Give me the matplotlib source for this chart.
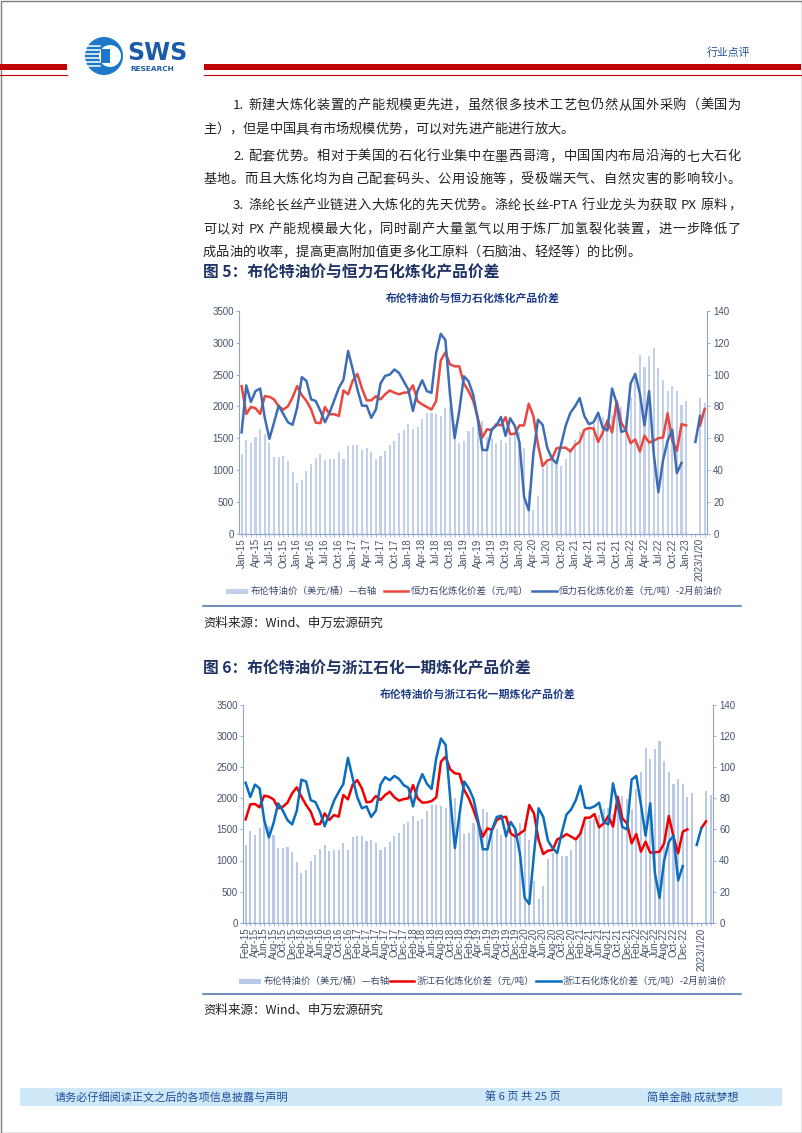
import re
import numpy as np
import pandas as pd
import matplotlib
matplotlib.use('Agg')
import matplotlib.pyplot as plt
from matplotlib.patches import Rectangle, Circle
from matplotlib.font_manager import FontProperties

FAM = ['Noto Sans CJK SC', 'DejaVu Sans']
plt.rcParams['font.family'] = FAM

nan = np.nan

# ---- data ----
# 布伦特油价 (美元/桶), Jan-15 .. Jan-23, then two daily points
brent = [50, 58.7, 56.7, 61, 65.6, 62.5, 56.7, 48, 48, 49, 45.6, 39,
         32, 33.7, 39.6, 43.5, 47.7, 49.8, 46, 47, 47, 51.5, 47, 55,
         55.6, 55.8, 52.5, 53.5, 51.5, 47, 49, 52, 56, 58, 63.3, 65,
         68.8, 65.6, 67, 72, 75.8, 75.8, 75, 74, 79, 80, 68.8, 57,
         58, 64.4, 67, 73, 71, 61, 60, 56.7, 59, 56.7, 61, 64,
         64, 53.5, 26.5, 15, 23.3, 41, 45, 45.8, 43, 42.7, 46.7, 53.5,
         58.7, 64, 66, 67, 69, 73, 73.5, 70, 74.4, 81.6, 79.6, 73.3,
         86, 97, 112.4, 105, 111.4, 116.6, 104, 96.8, 89.5, 92.7, 89.5, 80.8,
         83.3, nan, nan, 85, 82]

# 恒力石化炼化价差 (元/吨)
hl_spread = [2318, 1880, 1990, 1970, 1880, 2160, 2150, 2110, 2000, 1950, 2000, 2140,
             2320, 2175, 2085, 1955, 1745, 1735, 1990, 1876, 1876, 1850, 2250, 2190,
             2405, 2510, 2280, 2094, 2094, 2160, 2110, 2190, 2250, 2214, 2190, 2215,
             2220, 2330, 2083, 2030, 1990, 1950, 2083, 2720, 2850, 2660, 2630, 2630,
             2360, 2240, 2090, 1820, 1510, 1640, 1625, 1720, 1700, 1830, 1560, 1570,
             1700, 1700, 2040, 1850, 1400, 1060, 1150, 1170, 1340, 1350, 1350, 1290,
             1390, 1440, 1630, 1660, 1650, 1440, 1590, 1780, 1590, 2080, 1740, 1620,
             1420, 1480, 1290, 1540, 1430, 1460, 1500, 1510, 1890, 1460, 1300, 1720,
             1700, nan, nan, 1700, 1960]

# 恒力石化炼化价差 (元/吨) -2月前油价
hl_spread_lag = [1590, 2330, 2070, 2240, 2280, 1820, 1490, 1745, 2010, 1880, 1750, 1710,
                 1980, 2460, 2400, 2110, 2085, 1930, 1750, 1900, 2095, 2290, 2420, 2870,
                 2580, 2270, 2010, 2010, 1820, 1950, 2360, 2480, 2500, 2580, 2525, 2395,
                 2265, 1927, 2250, 2410, 2240, 2213, 2837, 3140, 3044, 2187, 1500, 1927,
                 2473, 2395, 2187, 1797, 1313, 1313, 1640, 1693, 1833, 1536, 1812, 1693,
                 1432, 575, 367, 1250, 1790, 1710, 1350, 1180, 1100, 1400, 1700, 1900,
                 2000, 2130, 1850, 1720, 1750, 1900, 1660, 1620, 2280, 2050, 1600, 1620,
                 2360, 2510, 2200, 1700, 2240, 1250, 650, 1150, 1460, 1630, 950, 1110,
                 nan, nan, 1440, 1850, nan]

# 浙江石化炼化价差 (元/吨)
zj_spread = [1662, 1903, 1908, 1855, 2042, 2026, 1983, 1838, 1865, 1930,
             2080, 2176, 2026, 1892, 1785, 1581, 1587, 1758, 1651, 1731,
             1704, 2053, 1983, 2214, 2294, 2160, 1935, 1946, 2037, 1972,
             2053, 2106, 2015, 1962, 1988, 1999, 2214, 1999, 1930, 1935,
             1956, 2015, 2589, 2669, 2466, 2401, 2391, 2133, 1999, 1812,
             1597, 1383, 1517, 1490, 1651, 1688, 1704, 1436, 1383, 1436,
             1490, 1892, 1758, 1329, 1104, 1158, 1168, 1340, 1372, 1426,
             1383, 1340, 1436, 1688, 1688, 1747, 1533, 1597, 1715, 1544,
             2026, 1678, 1597, 1276, 1426, 1142, 1302, 1126, 1131, 1142,
             1276, 1715, 1383, 1115, 1463, 1501,
             nan, nan, 1520, 1630, nan]

# 浙江石化炼化价差 (元/吨) -2月前油价
zj_spread_lag = [2250, 2020, 2220, 2160, 1650, 1370, 1600, 1920, 1800, 1650,
                 1580, 1800, 2300, 2270, 1970, 1940, 1780, 1550, 1750, 1960,
                 2100, 2230, 2650, 2330, 2020, 1840, 1870, 1700, 1800, 2220,
                 2340, 2290, 2360, 2310, 2210, 2170, 1870, 2200, 2390, 2230,
                 2150, 2650, 2960, 2860, 2000, 1200, 1750, 2270, 2160, 1990,
                 1640, 1180, 1180, 1500, 1700, 1720, 1390, 1620, 1500, 1100,
                 400, 300, 1100, 1840, 1700, 1320, 1200, 1120, 1450, 1740,
                 1820, 1970, 2200, 1850, 1840, 1870, 1930, 1620, 1580, 2240,
                 1900, 1540, 1500, 2300, 2360, 1900, 1400, 1920, 800, 400,
                 1000, 1300, 1400, 680, 910,
                 nan, nan, 1250, 1520, nan, nan]

cats1 = list(pd.date_range('2015-01-01', periods=97, freq='MS').strftime('%b-%y')) + ['', '', '2023/1/20', '']
cats2 = list(pd.date_range('2015-02-01', periods=95, freq='MS').strftime('%b-%y')) + ['', '', '', '2023/1/20', '', '']

W, H = 802, 1133
fig = plt.figure(figsize=(W / 100, H / 100), dpi=100)
pg = fig.add_axes([0, 0, 1, 1])
pg.set_xlim(0, W)
pg.set_ylim(H, 0)
pg.axis('off')
renderer = fig.canvas.get_renderer()

NAVY = '#1F3C88'
TXT = '#222222'


def tw(s, size, weight='normal'):
    fp = FontProperties(family=FAM, size=size, weight=weight)
    a = renderer.get_text_width_height_descent('|' + s + '|', fp, ismath=False)[0]
    b = renderer.get_text_width_height_descent('||', fp, ismath=False)[0]
    return a - b


def justify(x0, x1, y, s, size, full=True):
    toks = re.findall(r' |[\x21-\x7e]+|[^\x00-\x7f]', s)
    ws = [tw(t, size) for t in toks]
    gap = (x1 - x0 - sum(ws)) / (len(toks) - 1) if full else 0
    x = x0
    for t, w in zip(toks, ws):
        if t != ' ':
            pg.text(x, y, t, fontsize=size, color=TXT, ha='left', va='baseline')
        x += w + gap


# page frame
pg.add_patch(Rectangle((0.5, 0.5), W - 1, H - 1, fill=False, ec='#7f7f7f', lw=1))

# header
pg.add_patch(Rectangle((0, 64), 67, 6, color='#C00000', lw=0))
pg.add_patch(Rectangle((204, 64), W - 205, 6, color='#C00000', lw=0))
pg.plot([0, 67], [75, 75], color='#C00000', lw=0.8)
pg.plot([204, W - 1], [75, 75], color='#C00000', lw=0.8)
pg.add_patch(Circle((104, 56), 19, color='#1E78C8', lw=0))
pg.add_patch(Circle((110, 56), 11, color='white', lw=0))
for yy in [46, 50, 54, 58, 62, 66]:
    pg.plot([86, 100], [yy, yy], color='white', lw=1.1)
pg.add_patch(Rectangle((101, 49), 9, 14, color='#1E78C8', lw=0))
pg.text(127, 53, 'SWS', fontsize=17, weight='bold', color='#1C5BA8',
        family='DejaVu Sans', ha='left', va='center')
pg.text(130, 69, 'RESEARCH', fontsize=5.3, weight='bold', color='#1C5BA8',
        family='DejaVu Sans', ha='left', va='center')
pg.text(750, 53, '行业点评', fontsize=7.8, color='#1F4E9A', ha='right', va='center')

# body text
BS = 9.5
lines = [
    (233, 104, '1. 新建大炼化装置的产能规模更先进，虽然很多技术工艺包仍然从国外采购（美国为', True),
    (203, 128, '主），但是中国具有市场规模优势，可以对先进产能进行放大。', False),
    (233, 155, '2. 配套优势。相对于美国的石化行业集中在墨西哥湾，中国国内布局沿海的七大石化', True),
    (203, 178, '基地。而且大炼化均为自己配套码头、公用设施等，受极端天气、自然灾害的影响较小。', True),
    (233, 204, '3. 涤纶长丝产业链进入大炼化的先天优势。涤纶长丝-PTA 行业龙头为获取 PX 原料，', True),
    (203, 228, '可以对 PX 产能规模最大化，同时副产大量氢气以用于炼厂加氢裂化装置，进一步降低了', True),
    (203, 251, '成品油的收率，提高更高附加值更多化工原料（石脑油、轻烃等）的比例。', False),
]
for x0, y, s, full in lines:
    justify(x0, 741, y + 5, s, BS, full)


def chart(rect, cats, step, red, blue, red_c, blue_c, bar_c, title, ty, names, ly, lx):
    ax = fig.add_axes(rect)
    ax2 = ax.twinx()
    ax.set_zorder(ax2.get_zorder() + 1)
    ax.patch.set_visible(False)
    x = np.arange(len(cats))
    ax2.bar(x, brent, width=0.45, color=bar_c, lw=0)
    ax.plot(x, red, color=red_c, lw=1.8, solid_joinstyle='round')
    ax.plot(x, blue, color=blue_c, lw=1.8, solid_joinstyle='round')
    ax.set_xlim(-0.5, len(cats) - 0.5)
    ax.set_ylim(0, 3500)
    ax2.set_ylim(0, 140)
    ax.set_yticks(range(0, 3501, 500))
    ax2.set_yticks(range(0, 141, 20))
    ax.set_xticks(x)
    ax.set_xticklabels([c if i % step == 0 else '' for i, c in enumerate(cats)],
                       rotation=90, family='Liberation Sans')
    sc = '#8EA6CF'
    lc = '#44546A'
    for a in (ax, ax2):
        a.spines['top'].set_visible(False)
        for k in ('left', 'right', 'bottom'):
            a.spines[k].set_color(sc)
            a.spines[k].set_linewidth(0.8)
    ax.spines['right'].set_visible(False)
    ax2.spines['left'].set_visible(False)
    ax.tick_params(axis='y', length=2.5, width=0.6, color=sc, labelsize=7, labelcolor=lc, pad=1.5)
    ax2.tick_params(axis='y', length=2.5, width=0.6, color=sc, labelsize=7, labelcolor=lc, pad=2)
    ax.tick_params(axis='x', length=2, width=0.5, color=sc, labelsize=7, labelcolor=lc, pad=1.5)
    for lab in ax.get_yticklabels() + ax2.get_yticklabels():
        lab.set_family('Liberation Sans')
    pg.text((rect[0] + rect[2] / 2) * W, ty, title, fontsize=7.8, weight='bold',
            color=NAVY, ha='center', va='center')
    # legend
    pg.add_patch(Rectangle((lx[0], ly - 2.5), 22, 5, color=bar_c, lw=0))
    pg.text(lx[0] + 25, ly, names[0], fontsize=6.8, color='#3A4A6B', va='center')
    pg.plot([lx[1], lx[1] + 24], [ly, ly], color=red_c, lw=1.8)
    pg.text(lx[1] + 27, ly, names[1], fontsize=6.8, color='#3A4A6B', va='center')
    pg.plot([lx[2], lx[2] + 25], [ly, ly], color=blue_c, lw=1.8)
    pg.text(lx[2] + 27, ly, names[2], fontsize=6.8, color='#3A4A6B', va='center')


def rect_px(l, r, t, b):
    return [l / W, 1 - b / H, (r - l) / W, (b - t) / H]


# figure 5
pg.text(203, 272, '图 5：布伦特油价与恒力石化炼化产品价差', fontsize=11.3, weight='bold',
        color='#1F3366', ha='left', va='center')
chart(rect_px(239.3, 707, 311, 533.5), cats1, 3, hl_spread, hl_spread_lag,
      '#E8483E', '#3F6DB5', '#C3D0EA', '布伦特油价与恒力石化炼化产品价差', 298,
      ['布伦特油价（美元/桶）—右轴', '恒力石化炼化价差（元/吨）', '恒力石化炼化价差（元/吨）-2月前油价'],
      591, [226, 384, 532])
pg.plot([203, 741], [606, 606], color='#4A6FA5', lw=1.1)
pg.text(203, 623, '资料来源：Wind、申万宏源研究', fontsize=9, color=TXT, ha='left', va='center')

# figure 6
pg.text(203, 668, '图 6：布伦特油价与浙江石化一期炼化产品价差', fontsize=11.3, weight='bold',
        color='#1F3366', ha='left', va='center')
chart(rect_px(243.3, 713, 705, 922.7), cats2, 2, zj_spread, zj_spread_lag,
      '#F00000', '#0A6EBD', '#B9C9E6', '布伦特油价与浙江石化一期炼化产品价差', 694,
      ['布伦特油价（美元/桶）—右轴', '浙江石化炼化价差（元/吨）', '浙江石化炼化价差（元/吨）-2月前油价'],
      981, [239, 390, 536])
pg.plot([203, 741], [994, 994], color='#4A6FA5', lw=1.1)
pg.text(203, 1010, '资料来源：Wind、申万宏源研究', fontsize=9, color=TXT, ha='left', va='center')

# footer
pg.add_patch(Rectangle((20, 1088), 762, 18, color='#CFE8F8', lw=0))
pg.text(55, 1097, '请务必仔细阅读正文之后的各项信息披露与声明', fontsize=8, color='#1F4E9A', va='center')
pg.text(485, 1097, '第 6 页 共 25 页', fontsize=8, color='#1F4E9A', va='center')
pg.text(647, 1097, '简单金融 成就梦想', fontsize=8, color='#1F4E9A', va='center')

fig.savefig('out.png', dpi=100)
